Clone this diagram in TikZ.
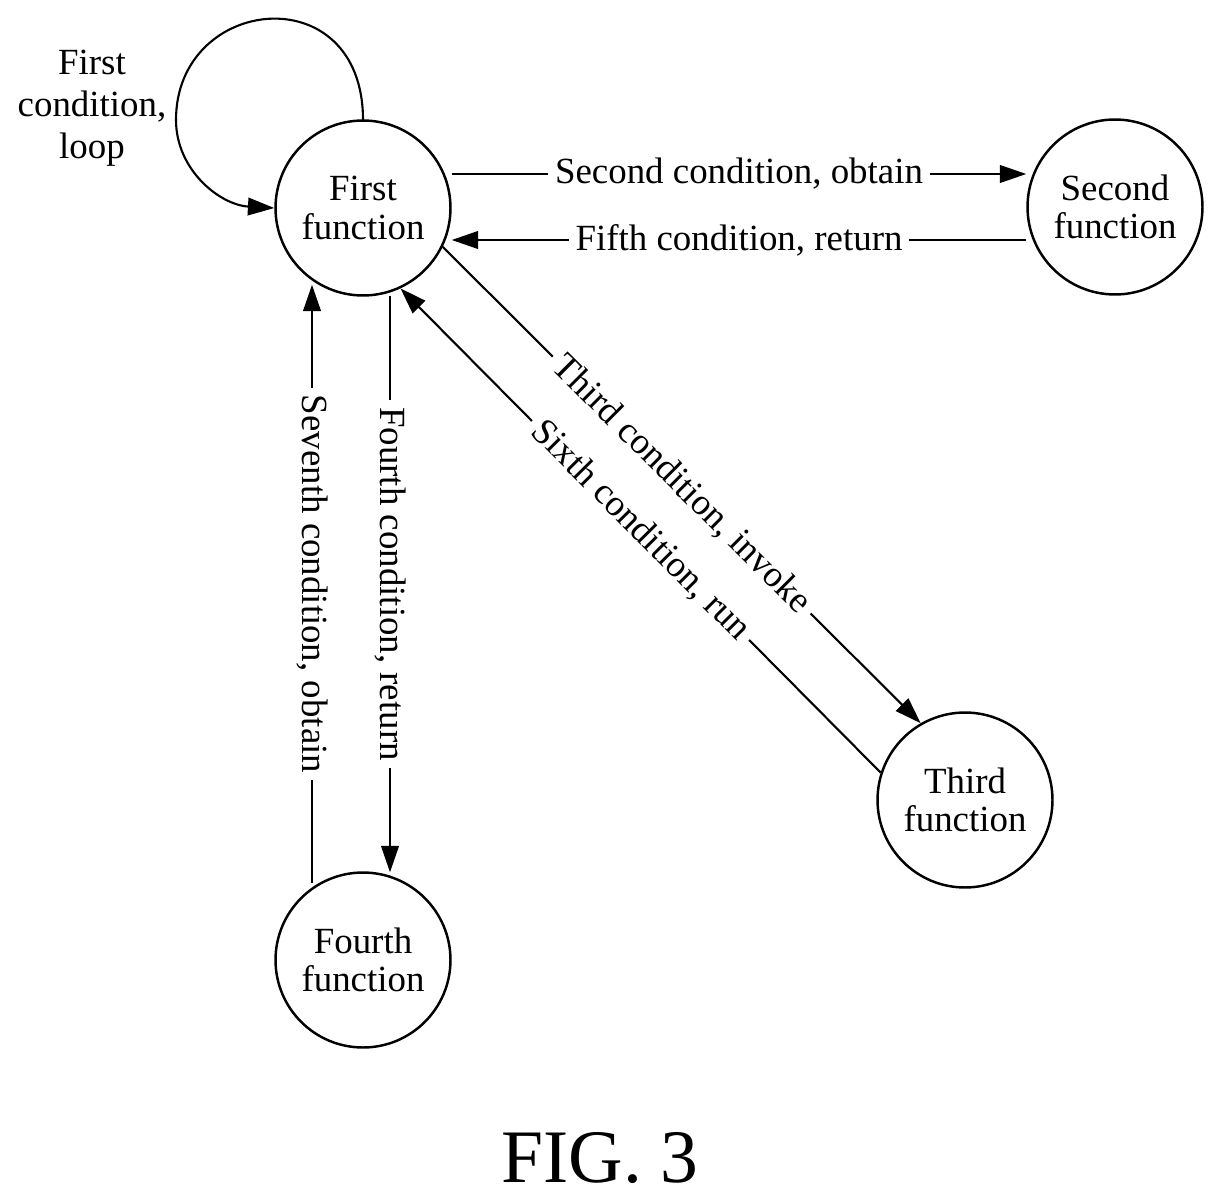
\documentclass[tikz,border=0pt]{standalone}
\usepackage{fontspec}
\setmainfont{Liberation Serif}
\usepackage{tikz}
\usetikzlibrary{calc}
\usetikzlibrary{arrows.meta}

\tikzset{
  func/.style={draw,circle,line width=1.4pt,minimum size=3.5cm,inner sep=0pt,align=center,font=\fontsize{21}{22}\selectfont},
  cond/.style={fill=white,inner sep=4pt,font=\fontsize{21}{22}\selectfont},
  flow/.style={-{Triangle[length=15pt,width=10pt]},line width=1.2pt}
}

\begin{document}
\begin{tikzpicture}[x=0.02cm,y=-0.02cm]
\useasboundingbox (0,0) rectangle (1227,1203);

\node[func] (f1) at (363,208) {First\\function};
\node[func] (f2) at (1115,207) {Second\\function};
\node[func] (f3) at (965,800) {Third\\function};
\node[func] (f4) at (363,960) {Fourth\\function};

\coordinate (ltop) at (363,120);

\newcommand{\cedge}[3]{
    \draw[flow] (#1)--node[cond,sloped]{#3}(#2);
}

% loop on the first function
\draw[flow] (ltop) .. controls (363,-25) and (176,-5) .. (176,120)
            .. controls (176,170) and (220,205) .. (f1.west);
\node[align=center,font=\fontsize{21}{24}\selectfont] (lp) at (92,108) {First\\condition,\\loop};

\draw[flow] ($(f1.east)+(0,-34)$) coordinate (a1) -- node[cond]{Second condition, obtain} ($(f2.west)+(0,-33)$) coordinate (a2);
\draw[flow] ($(f2.west)+(0,33)$) coordinate (b1) -- node[cond]{Fifth condition, return} ($(f1.east)+(0,32)$) coordinate (b2);

\cedge{f1.-26}{f3.120}{Third condition, invoke}
\cedge{f3.162}{f1.-65}{Sixth condition, run}

\draw[flow] ($(f1.south)+(27,-1)$) coordinate (c1) -- node[cond,rotate=-90]{Fourth condition, return} ($(f4.north)+(27,1)$) coordinate (c2);
\draw[flow] ($(f4.north)+(-51,12)$) coordinate (d1) -- node[cond,rotate=-90]{Seventh condition, obtain} ($(f1.south)+(-51,-12)$) coordinate (d2);

\node[font=\fontsize{43}{48}\selectfont] (fig) at (600,1158) {FIG. 3};
\end{tikzpicture}
\end{document}
